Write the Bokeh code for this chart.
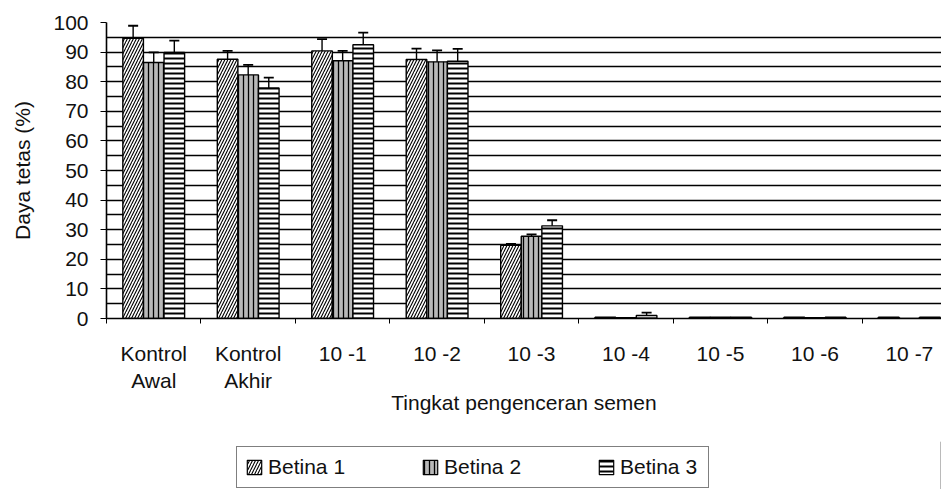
from bokeh.plotting import figure
from bokeh.layouts import column
from bokeh.models import (ColumnDataSource, Range1d, FixedTicker, Whisker, TeeHead,
                          Legend, LegendItem)
from bokeh.embed import file_html
from bokeh.resources import INLINE

# ---- data ----
categories = ["Kontrol\nAwal", "Kontrol\nAkhir", "10 -1", "10 -2", "10 -3",
              "10 -4", "10 -5", "10 -6", "10 -7"]
series_names = ["Betina 1", "Betina 2", "Betina 3"]
betina1 = [94.7, 87.6, 90.4, 87.5, 24.7, 0.4, 0.4, 0.4, 0.4]
betina2 = [86.5, 82.3, 87.1, 86.7, 27.8, 0.3, 0.4, 0.3, 0.0]
betina3 = [89.9, 77.9, 92.5, 86.9, 31.3, 1.0, 0.4, 0.4, 0.4]
err1 = [4.2, 2.8, 4.0, 3.7, 0.5, 0.0, 0.0, 0.0, 0.0]
err2 = [3.4, 3.4, 3.3, 3.9, 0.6, 0.0, 0.0, 0.0, 0.0]
err3 = [4.0, 3.5, 4.1, 4.2, 1.9, 1.0, 0.0, 0.0, 0.0]
y_ticks = list(range(0, 101, 10))
y_minor = list(range(5, 100, 10))

FONT = "Liberation Sans"
n = len(categories)
centers = [i + 0.5 for i in range(n)]
bw = 0.218
offsets = [-bw, 0.0, bw]

W = 941
p = figure(width=W, height=441, output_backend="svg", toolbar_location=None,
           x_range=Range1d(0, 8.84), y_range=Range1d(0, 100),
           min_border_left=106, min_border_right=0, min_border_top=22,
           min_border_bottom=123)
p.outline_line_color = None
p.background_fill_color = "white"
p.border_fill_color = "white"

# grid lines every 5
p.xgrid.grid_line_color = None
p.ygrid.grid_line_color = "black"
p.ygrid.grid_line_width = 1.5
p.ygrid.minor_grid_line_color = "black"
p.ygrid.minor_grid_line_width = 1.5

styles = [
    dict(fill_color="white", hatch_pattern="/", hatch_color="black",
         hatch_scale=6, hatch_weight=1.1),
    dict(fill_color="#b8b8b8", hatch_pattern="|", hatch_color="black",
         hatch_scale=5, hatch_weight=1.3),
    dict(fill_color="white", hatch_pattern="-", hatch_color="black",
         hatch_scale=5, hatch_weight=2.0),
]
values = [betina1, betina2, betina3]
errors = [err1, err2, err3]
for k in range(3):
    xs = [c + offsets[k] for c in centers]
    src = ColumnDataSource(dict(x=xs, top=values[k]))
    p.vbar(x="x", top="top", width=bw, bottom=0, source=src,
           line_color="black", line_width=1.4, **styles[k])
    ex = [x for x, e in zip(xs, errors[k]) if e > 0]
    ev = [v for v, e in zip(values[k], errors[k]) if e > 0]
    ee = [e for e in errors[k] if e > 0]
    esrc = ColumnDataSource(dict(x=ex, lo=[v - e for v, e in zip(ev, ee)],
                                 hi=[v + e for v, e in zip(ev, ee)]))
    p.add_layout(Whisker(source=esrc, base="x", lower="lo", upper="hi",
                         line_color="black", line_width=1.4,
                         upper_head=TeeHead(size=10, line_color="black", line_width=1.8),
                         lower_head=TeeHead(size=10, line_color="black", line_width=1.8)))

# x axis: labels at centres, small ticks at boundaries
p.xaxis.ticker = FixedTicker(ticks=centers, minor_ticks=list(range(n + 1)))
p.xaxis.major_label_overrides = {c: lab for c, lab in zip(centers, categories)}
p.xaxis.major_tick_line_color = None
p.xaxis.major_tick_out = 0
p.xaxis.major_tick_in = 0
p.xaxis.minor_tick_line_color = "black"
p.xaxis.minor_tick_out = 5
p.xaxis.minor_tick_in = 0
p.xaxis.major_label_standoff = 18
p.xaxis.axis_line_color = "black"
p.xaxis.axis_line_width = 1.6
p.xaxis.axis_label = "Tingkat pengenceran semen"
p.xaxis.axis_label_standoff = -4

p.yaxis.ticker = FixedTicker(ticks=y_ticks, minor_ticks=y_minor)
p.yaxis.major_tick_out = 6
p.yaxis.major_tick_in = 0
p.yaxis.minor_tick_line_color = None
p.yaxis.major_label_standoff = 12
p.yaxis.axis_line_width = 1.6
p.yaxis.axis_label = "Daya tetas (%)"
p.yaxis.axis_label_standoff = 16

for ax in (p.xaxis, p.yaxis):
    ax.major_label_text_font = FONT
    ax.major_label_text_font_size = "21px"
    ax.major_label_text_color = "#111111"
    ax.axis_label_text_font = FONT
    ax.axis_label_text_font_size = "21px"
    ax.axis_label_text_font_style = "normal"
    ax.axis_label_text_color = "#111111"

# legend strip below the chart (same bar styles, one point outside the view)
lf = figure(width=W, height=48, output_backend="svg", toolbar_location=None,
            x_range=Range1d(0, 1), y_range=Range1d(0, 1),
            min_border_left=0, min_border_right=0, min_border_top=0,
            min_border_bottom=0)
lf.axis.visible = False
lf.grid.visible = False
lf.outline_line_color = None
lf.background_fill_color = "white"
lf.border_fill_color = "white"
items = []
for k in range(3):
    r = lf.vbar(x=[5.0], top=[1.0], width=0.1, line_color="black", line_width=1.2,
                **styles[k])
    items.append(LegendItem(label=series_names[k], renderers=[r]))
legend = Legend(items=items, orientation="horizontal", location=(130, 1),
                glyph_width=18, glyph_height=18, label_standoff=5,
                label_width=80, spacing=73, padding=8, margin=0,
                border_line_color="black", border_line_width=1.4,
                label_text_font=FONT, label_text_font_size="21px",
                label_text_color="#111111", background_fill_alpha=1.0)
lf.add_layout(legend)

layout = column(p, lf, spacing=0)
open("out.html", "w").write(file_html(layout, INLINE))
